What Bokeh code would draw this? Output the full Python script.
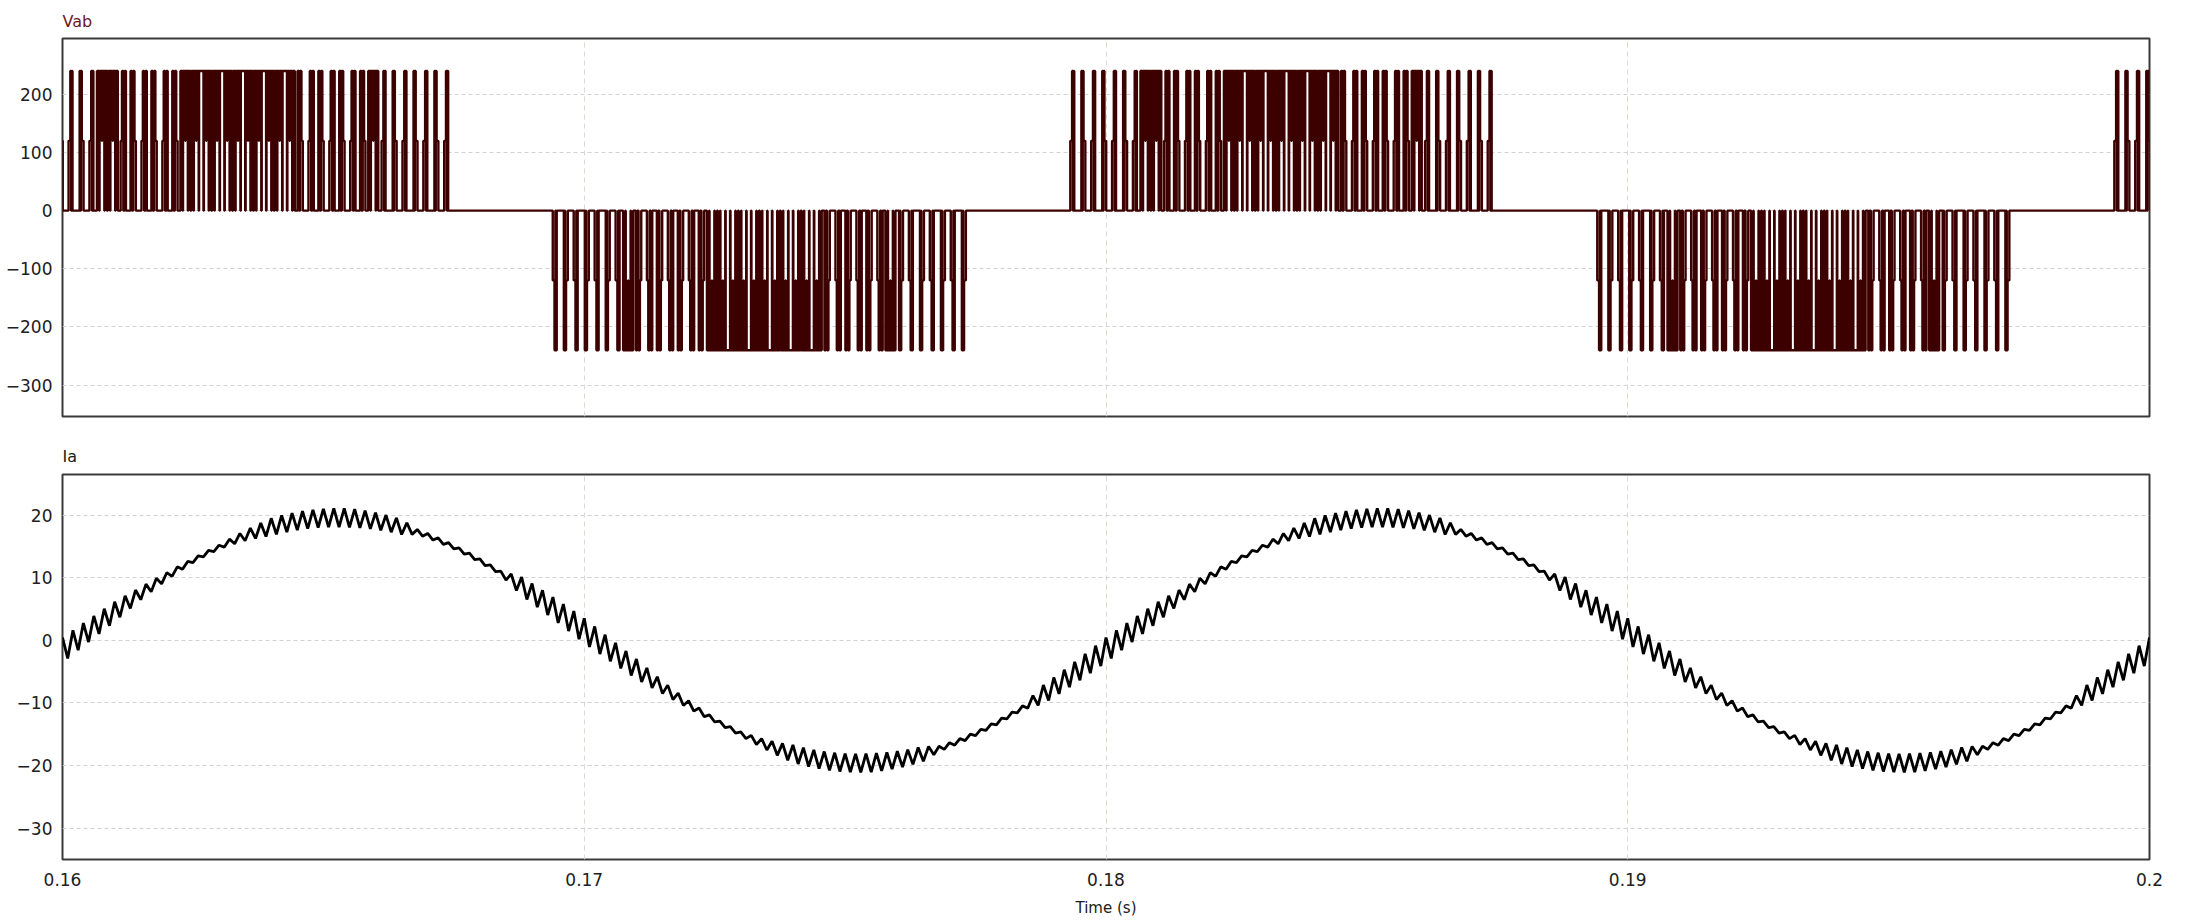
import numpy as np
from bokeh.plotting import figure
from bokeh.layouts import column
from bokeh.models import Range1d, FixedTicker
from bokeh.embed import file_html
from bokeh.resources import INLINE

# ---------------- data ----------------
T_START, T_END = 0.16, 0.20
x_ticks = [0.16, 0.17, 0.18, 0.19, 0.2]
x_tick_labels = ["0.16", "0.17", "0.18", "0.19", "0.2"]
vab_ticks = [-300, -200, -100, 0, 100, 200]
ia_ticks = [-30, -20, -10, 0, 10, 20]
vab_yrange = [-354, 296]
ia_yrange = [-35, 26.5]

# Vab: switching (active) intervals and their polarity
seg_start = [0.15926, 0.16934, 0.17926, 0.18936, 0.19927]
seg_end = [0.16746, 0.17737, 0.18746, 0.19737, 0.20747]
seg_sign = [1, -1, 1, -1, 1]
vab_levels = [0, 120, 240]
carrier_hz = 5000
# zones inside an active interval (fraction of the interval) and their pulse kind
zone_edges = [0.0, 0.17, 0.21, 0.37, 0.64, 0.80, 0.82, 1.0]
zone_kind = ["narrow", "dense", "medium", "dense", "medium", "dense", "narrow"]
# level index sequence and time fractions for one carrier period of each kind
kind_levels = {
    "narrow": [0, 1, 2, 0, 2, 0],
    "medium": [0, 2, 0, 2, 1, 0],
    "dense": [0, 2, 0, 2, 1, 2, 0, 2],
}
kind_frac = {
    "narrow": [0.28, 0.17, 0.08, 0.05, 0.08, 0.34],
    "medium": [0.22, 0.13, 0.12, 0.13, 0.13, 0.27],
    "dense": [0.04, 0.21, 0.04, 0.21, 0.04, 0.21, 0.04, 0.21],
}

# Ia: fundamental and ripple envelope (per half period, from 0.16 s)
ia_amp = 19.6
ia_freq = 50
ia_zero = 0.16025
ripple_tau = [0.0, 0.001, 0.0015, 0.002, 0.0025, 0.003, 0.0035, 0.004,
              0.0055, 0.0065, 0.0068, 0.0075, 0.0084, 0.0088, 0.01]
ripple_amp = [2.0, 1.6, 1.0, 0.6, 0.3, 0.3, 0.8, 1.4,
              1.5, 1.2, 0.4, 0.3, 0.3, 1.5, 2.0]

# ---------------- build traces ----------------
Tc = 1.0 / carrier_hz
vx, vy = [seg_start[0] - Tc], [0]
for s, e, sg in zip(seg_start, seg_end, seg_sign):
    n = int(round((e - s) / Tc))
    tk = (e - s) / n
    for k in range(n):
        t0 = s + k * tk
        pos = (k + 0.5) / n
        z = int(np.searchsorted(zone_edges, pos, side="right") - 1)
        z = min(z, len(zone_kind) - 1)
        lv = kind_levels[zone_kind[z]]
        fr = kind_frac[zone_kind[z]]
        if k % 2 == 1:
            lv = lv[::-1]
            fr = fr[::-1]
        t = t0
        for li, f in zip(lv, fr):
            level = sg * vab_levels[li]
            vx += [t, t + f * tk]
            vy += [level, level]
            t += f * tk
vx.append(T_END + Tc)
vy.append(0)

n_pts = int(round((T_END - T_START) * carrier_hz * 2))
it = T_START + np.arange(n_pts + 1) * (0.5 / carrier_hz)
tau = np.mod(it - T_START, 0.01)
env = np.interp(tau, ripple_tau, ripple_amp)
zig = np.where(np.arange(n_pts + 1) % 2 == 0, 1.0, -1.0)
ia = ia_amp * np.sin(2 * np.pi * ia_freq * (it - ia_zero)) + zig * env

# ---------------- figures ----------------
W = 2185
FONT = "DejaVu Sans"


def style(p, yticks, title, tcolor, standoff):
    p.outline_line_color = "#3a3a3a"
    p.outline_line_width = 2
    p.background_fill_color = "white"
    p.border_fill_color = "white"
    p.yaxis.ticker = FixedTicker(ticks=yticks)
    p.yaxis.axis_line_color = None
    p.yaxis.major_tick_line_color = None
    p.yaxis.minor_tick_line_color = None
    p.yaxis.major_tick_out = 0
    p.yaxis.major_tick_in = 0
    p.yaxis.major_label_standoff = 10
    p.yaxis.major_label_text_font = FONT
    p.yaxis.major_label_text_font_size = "17px"
    p.yaxis.major_label_text_color = "#202020"
    p.xaxis.ticker = FixedTicker(ticks=x_ticks)
    p.ygrid.grid_line_color = "#d2d2d2"
    p.ygrid.grid_line_dash = "4 3"
    p.ygrid.grid_line_width = 1
    p.xgrid.grid_line_color = "#d6ddd0"
    p.xgrid.grid_line_dash = "5 4"
    p.xgrid.grid_line_width = 1
    p.title.text = title
    p.title.text_font = FONT
    p.title.text_font_size = "16px"
    p.title.text_font_style = "normal"
    p.title.text_color = tcolor
    p.title.align = "left"
    p.title.standoff = standoff


p1 = figure(width=W, height=426, x_range=Range1d(T_START, T_END),
            y_range=Range1d(*vab_yrange), output_backend="svg",
            toolbar_location=None, min_border_left=62, min_border_right=36,
            min_border_top=38, min_border_bottom=10)
style(p1, vab_ticks, "Vab", "#6e1626", 16)
p1.xaxis.visible = False
p1.line(vx, vy, line_color="#3d0000", line_width=2.4)

p2 = figure(width=W, height=493, x_range=p1.x_range,
            y_range=Range1d(*ia_yrange), output_backend="svg",
            toolbar_location=None, min_border_left=62, min_border_right=36,
            min_border_top=48, min_border_bottom=58)
style(p2, ia_ticks, "Ia", "#1a1a1a", 18)
p2.xaxis.axis_line_color = None
p2.xaxis.major_tick_line_color = None
p2.xaxis.minor_tick_line_color = None
p2.xaxis.major_tick_out = 0
p2.xaxis.major_tick_in = 0
p2.xaxis.major_label_standoff = 13
p2.xaxis.major_label_text_font = FONT
p2.xaxis.major_label_text_font_size = "17px"
p2.xaxis.major_label_text_color = "#202020"
p2.xaxis.major_label_overrides = {t: l for t, l in zip(x_ticks, x_tick_labels)}
p2.xaxis.axis_label = "Time (s)"
p2.xaxis.axis_label_text_font = FONT
p2.xaxis.axis_label_text_font_size = "15px"
p2.xaxis.axis_label_text_font_style = "normal"
p2.xaxis.axis_label_text_color = "#202020"
p2.xaxis.axis_label_standoff = 10
p2.line(it, ia, line_color="black", line_width=2.8)

layout = column(p1, p2, spacing=0)
open("out.html", "w").write(file_html(layout, INLINE))
